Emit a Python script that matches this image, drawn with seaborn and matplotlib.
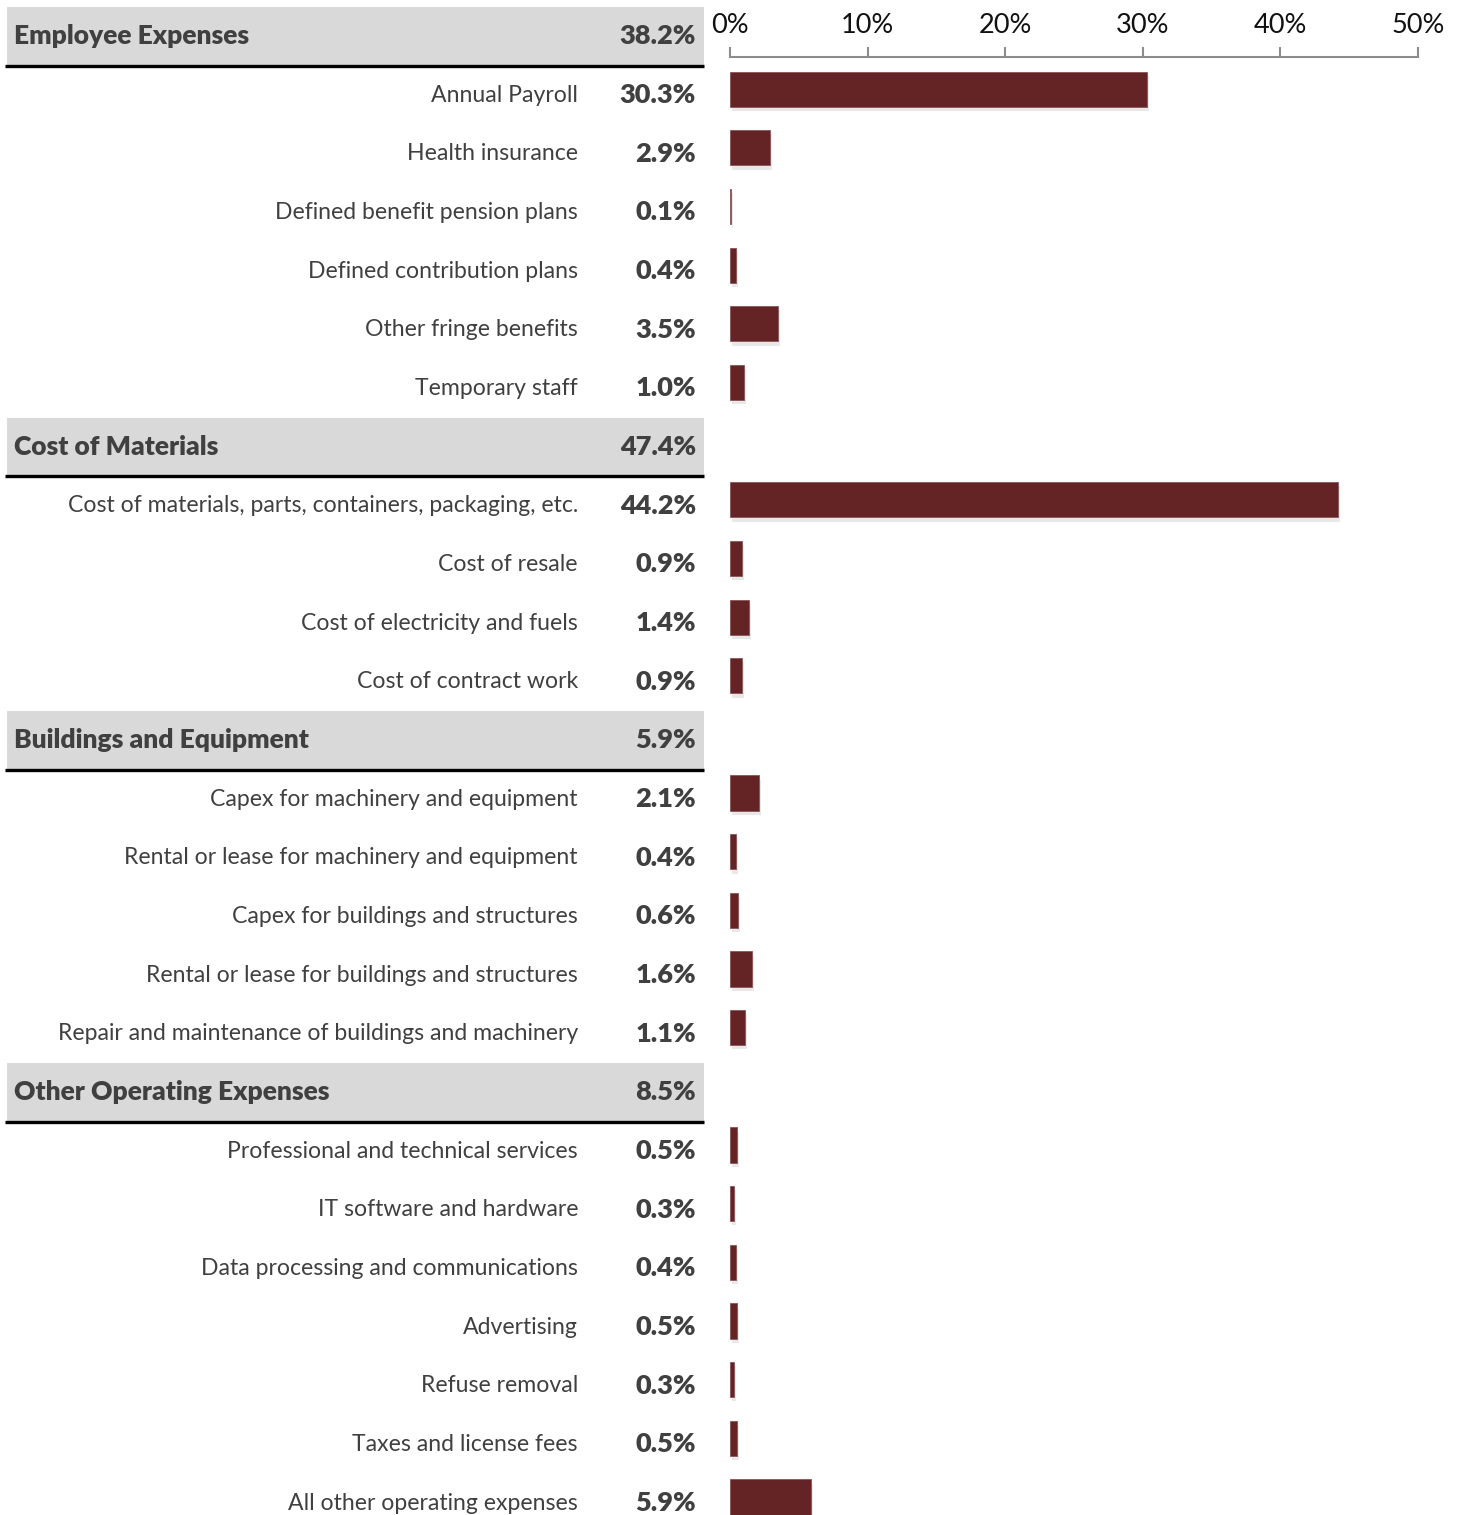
import matplotlib
matplotlib.use("Agg")
import matplotlib.pyplot as plt
import matplotlib.patheffects as pe
from matplotlib.patches import Rectangle
import seaborn as sns
import pandas as pd

# ---- data ----
groups = ["Employee Expenses", "Cost of Materials", "Buildings and Equipment", "Other Operating Expenses"]
group_values = [38.2, 47.4, 5.9, 8.5]

employee_items = ["Annual Payroll", "Health insurance", "Defined benefit pension plans",
                  "Defined contribution plans", "Other fringe benefits", "Temporary staff"]
employee_values = [30.3, 2.9, 0.1, 0.4, 3.5, 1.0]

materials_items = ["Cost of materials, parts, containers, packaging, etc.", "Cost of resale",
                   "Cost of electricity and fuels", "Cost of contract work"]
materials_values = [44.2, 0.9, 1.4, 0.9]

buildings_items = ["Capex for machinery and equipment", "Rental or lease for machinery and equipment",
                   "Capex for buildings and structures", "Rental or lease for buildings and structures",
                   "Repair and maintenance of buildings and machinery"]
buildings_values = [2.1, 0.4, 0.6, 1.6, 1.1]

other_items = ["Professional and technical services", "IT software and hardware",
               "Data processing and communications", "Advertising", "Refuse removal",
               "Taxes and license fees", "All other operating expenses"]
other_values = [0.5, 0.3, 0.4, 0.5, 0.3, 0.5, 5.9]

tick_values = [0, 10, 20, 30, 40, 50]
tick_labels = ["0%", "10%", "20%", "30%", "40%", "50%"]

item_lists = [employee_items, materials_items, buildings_items, other_items]
value_lists = [employee_values, materials_values, buildings_values, other_values]

# Build row order
order, rows = [], []
for g, gv, its, vs in zip(groups, group_values, item_lists, value_lists):
    order.append(g)
    rows.append(("header", g, gv))
    for it, v in zip(its, vs):
        order.append(it)
        rows.append(("item", it, v))

df = pd.DataFrame({"label": [r[1] for r in rows if r[0] == "item"],
                   "value": [r[2] for r in rows if r[0] == "item"]})

# ---- style ----
sns.set_style("white")
plt.rcParams["font.family"] = ["Lato", "DejaVu Sans"]

W, H = 1460, 1515
fig = plt.figure(figsize=(W / 100, H / 100), dpi=100)

row0_px, step_px = 36.5, 58.66
def px_to_row(py):
    return (py - row0_px) / step_px

axis_top_px = 57
bar_left_px, bar_right_px = 730, 1418
bar_shift_px = 6.0  # bars sit slightly above the text rows

ax_tab = fig.add_axes([0, 0, bar_left_px / W, 1])
ax_bar = fig.add_axes([bar_left_px / W, 0, (bar_right_px - bar_left_px) / W, (H - axis_top_px) / H])

bar_color = "#642425"
sns.barplot(data=df, x="value", y="label", order=order, orient="h", color=bar_color,
            width=0.6, saturation=1, ax=ax_bar, edgecolor="#8a5556", linewidth=0.6)
for p in ax_bar.patches:
    p.set_path_effects([pe.SimplePatchShadow(offset=(1.5, -3), shadow_rgbFace="#9a9a9a", alpha=0.22),
                        pe.Normal()])

ax_bar.set_xlim(0, 50)
ax_bar.set_ylim(px_to_row(H + bar_shift_px), px_to_row(axis_top_px + bar_shift_px))
ax_bar.set_xlabel("")
ax_bar.set_ylabel("")
ax_bar.set_yticks([])
ax_bar.xaxis.tick_top()
ax_bar.set_xticks(tick_values)
ax_bar.set_xticklabels(tick_labels)
ax_bar.tick_params(axis="x", direction="out", length=7.5, width=1.5, color="#8c8c8c",
                   pad=6, labelsize=19.5, labelcolor="#111111")
for s in ["right", "left", "bottom"]:
    ax_bar.spines[s].set_visible(False)
ax_bar.spines["top"].set_color("#8c8c8c")
ax_bar.spines["top"].set_linewidth(1.5)
ax_bar.patch.set_alpha(0)

# ---- table side ----
ax_tab.set_xlim(0, bar_left_px)
ax_tab.set_ylim(px_to_row(H), px_to_row(0))
ax_tab.axis("off")

txt_color = "#404040"
for i, (kind, label, val) in enumerate(rows):
    if kind == "header":
        ax_tab.add_patch(Rectangle((7, i - 0.5), 697, 1.0, facecolor="#d9d9d9", edgecolor="none", zorder=1))
        ax_tab.plot([5, 704], [i + 0.5, i + 0.5], color="black", lw=2.4, solid_capstyle="butt", zorder=2)
        ax_tab.text(14, i, label, ha="left", va="center", fontsize=19, fontweight="heavy",
                    color=txt_color, zorder=3)
        ax_tab.text(696, i, f"{val:.1f}%", ha="right", va="center", fontsize=19.5, fontweight="heavy",
                    color=txt_color, zorder=3)
    else:
        ax_tab.text(578, i, label, ha="right", va="center", fontsize=16.6, color=txt_color, zorder=3)
        ax_tab.text(696, i, f"{val:.1f}%", ha="right", va="center", fontsize=19.5, fontweight="heavy",
                    color=txt_color, zorder=3)

fig.savefig("out.png", dpi=100)
